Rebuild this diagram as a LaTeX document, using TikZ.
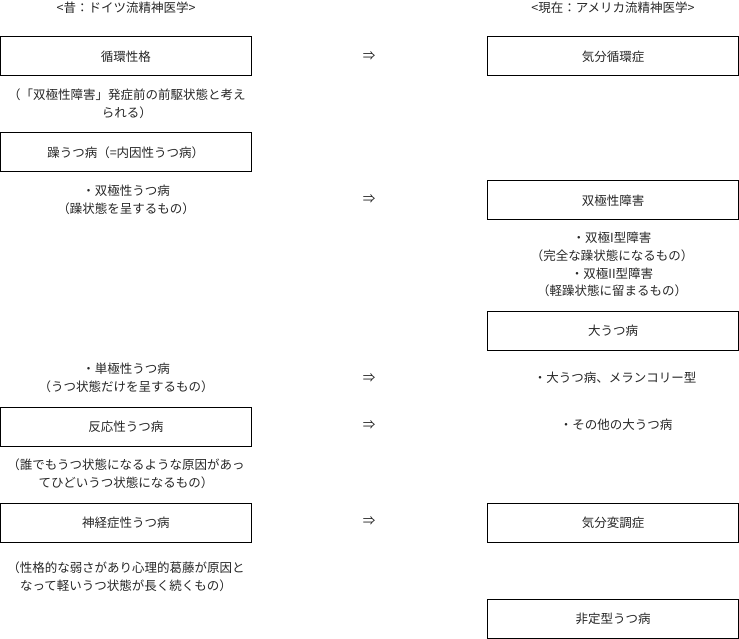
\documentclass[tikz,border=0pt]{standalone}
\usepackage{fontspec}
\setmainfont{Noto Sans CJK JP}
\begin{document}
\begin{tikzpicture}[x=1pt,y=-1pt,
  every node/.style={font=\fontsize{12.5pt}{17.7pt}\selectfont, text=black!85, inner sep=0pt},
  box/.style={draw=black, line width=1pt, minimum width=251pt, minimum height=39pt},
  txt/.style={align=center},
  arr/.style={}]
\useasboundingbox (0,0) rectangle (739,639);
% headers
\node (hl) at (126,8) {<昔：ドイツ流精神医学>};
\node (hr) at (613,8) {<現在：アメリカ流精神医学>};
% left boxes
\node[box] (l1) at (125.75,56.5) {循環性格};
\node[box] (l2) at (125.75,152.5) {躁うつ病（=内因性うつ病）};
\node[box] (l3) at (125.75,426.5) {反応性うつ病};
\node[box] (l4) at (125.75,522.5) {神経症性うつ病};
% left texts
\node[txt] (t1) at (127,104) {（「双極性障害」発症前の前駆状態と考え\\られる）};
\node[txt] (t2) at (126,200) {・双極性うつ病\\（躁状態を呈するもの）};
\node[txt] (t3) at (126,378) {・単極性うつ病\\（うつ状態だけを呈するもの）};
\node[txt] (t4) at (126,473.5) {（誰でもうつ状態になるような原因があっ\\てひどいうつ状態になるもの）};
\node[txt] (t5) at (126,576.5) {（性格的な弱さがあり心理的葛藤が原因と\\なって軽いうつ状態が長く続くもの）};
% arrows
\node[arr] (a1) at (369,56) {⇒};
\node[arr] (a2) at (369,199) {⇒};
\node[arr] (a3) at (369,378) {⇒};
\node[arr] (a4) at (369,425) {⇒};
\node[arr] (a5) at (369,521) {⇒};
% right boxes
\node[box] (r1) at (613,56.5) {気分循環症};
\node[box] (r2) at (613,200.5) {双極性障害};
\node[box] (r3) at (613,330.5) {大うつ病};
\node[box] (r4) at (613,522.5) {気分変調症};
\node[box] (r5) at (613,618.5) {非定型うつ病};
% right texts
\node[txt] (s1) at (612,264.5) {・双極I型障害\\（完全な躁状態になるもの）\\・双極II型障害\\（軽躁状態に留まるもの）};
\node (s2) at (615,378) {・大うつ病、メランコリー型};
\node (s3) at (616,425) {・その他の大うつ病};
\end{tikzpicture}
\end{document}
